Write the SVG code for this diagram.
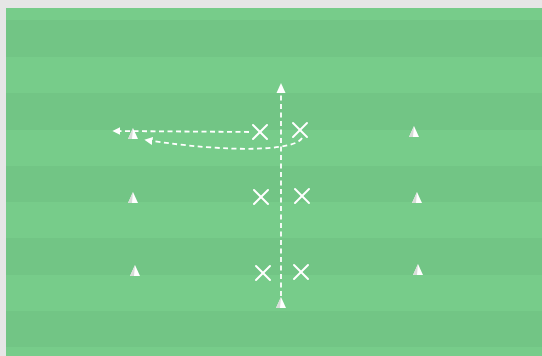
<svg xmlns="http://www.w3.org/2000/svg" width="542" height="356" viewBox="0 0 542 356">
<defs>
<style>
.dash{fill:none;stroke:#ffffff;stroke-width:1.8;stroke-dasharray:5 3.5}
.x{stroke:#ffffff;stroke-width:2;stroke-linecap:round}
.cone{fill:#ffffff}
.shade{fill:#d8dcd8}
</style>
<marker id="ah" viewBox="0 0 10 10" refX="8" refY="5" markerWidth="4.5" markerHeight="4.5" orient="auto">
<path d="M0,0 L10,5 L0,10 z" fill="#ffffff"/>
</marker>
<g id="coneShape">
<path class="cone" d="M0,-11 L5,0 L-5,0 z"/>
<path class="shade" d="M0,-11 L-1,0 L-5,0 z"/>
</g>
<g id="xShape">
<line class="x" x1="-7" y1="-7" x2="7" y2="7"/>
<line class="x" x1="-7" y1="7" x2="7" y2="-7"/>
</g>
</defs>
<rect width="542" height="356" fill="#e6e6e6"/>
<g id="field">
<rect x="6" y="8" width="536" height="348" fill="#77cc8a"/>
<rect x="6" y="20" width="536" height="37" fill="#72c585"/>
<rect x="6" y="93" width="536" height="37" fill="#72c585"/>
<rect x="6" y="166" width="536" height="36" fill="#72c585"/>
<rect x="6" y="238" width="536" height="37" fill="#72c585"/>
<rect x="6" y="311" width="536" height="36" fill="#72c585"/>
</g>
<g id="connectors">
<line class="dash" x1="281" y1="296" x2="281" y2="92"/>
<path d="M281,83 L285.5,93 L276.5,93 z" fill="#ffffff"/>
<line class="dash" x1="249" y1="132" x2="114" y2="131" marker-end="url(#ah)"/>
<path class="dash" d="M302,138 C295,151 230,153 146,140" marker-end="url(#ah)"/>
</g>
<g id="cone-l1"><use href="#coneShape" x="133" y="139"/></g>
<g id="cone-l2"><use href="#coneShape" x="133" y="203"/></g>
<g id="cone-l3"><use href="#coneShape" x="135" y="276"/></g>
<g id="cone-r1"><use href="#coneShape" x="414" y="137"/></g>
<g id="cone-r2"><use href="#coneShape" x="417" y="203"/></g>
<g id="cone-r3"><use href="#coneShape" x="418" y="275"/></g>
<g id="cone-bottom"><use href="#coneShape" x="281" y="308"/></g>
<g id="x1"><use href="#xShape" x="260" y="132"/></g>
<g id="x2"><use href="#xShape" x="300" y="130"/></g>
<g id="x3"><use href="#xShape" x="261" y="197"/></g>
<g id="x4"><use href="#xShape" x="302" y="196"/></g>
<g id="x5"><use href="#xShape" x="263" y="273"/></g>
<g id="x6"><use href="#xShape" x="301" y="272"/></g>
</svg>
